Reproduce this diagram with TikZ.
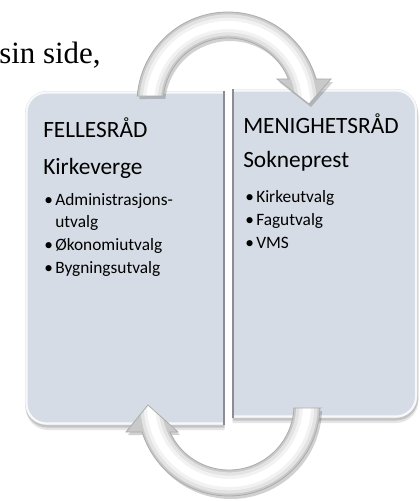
\documentclass[tikz,border=0pt]{standalone}
\usepackage{fontspec}
\setmainfont{Carlito}
\newfontfamily\serifx{Liberation Serif}
\definecolor{boxfill}{HTML}{D6DCE5}
\definecolor{boxedge}{HTML}{8A8E94}
\definecolor{arrowbase}{HTML}{C9C9C9}
\begin{document}
\begin{tikzpicture}[x=0.75pt,y=-0.75pt,
  titletext/.style={anchor=base west, inner sep=0pt, font=\fontsize{17.5}{21}\selectfont, text=black},
  itemtext/.style={anchor=base west, inner sep=0pt, font=\fontsize{13}{16}\selectfont, text=black},
  arrowedge/.style={draw=gray!65, line width=0.6pt},
]
\useasboundingbox (0,0) rectangle (420,501);

% intro text
\node[anchor=base west, inner sep=0pt, font=\serifx\fontsize{23.2}{28}\selectfont] (intro) at (-1,63) {sin side,};

% left box
\begin{scope}
  \clip (0,0) rectangle (224.5,501);
  \fill[black, opacity=.10, rounded corners=17pt] (25.5,95) rectangle (262,430);
  \fill[black, opacity=.15, rounded corners=16.5pt] (25.5,93) rectangle (262,427.5);
  \fill[boxfill, rounded corners=16.5pt] (25,91) rectangle (262,425);
  \draw[white, opacity=.8, line width=1.6pt, rounded corners=15pt] (26.5,92.5) rectangle (262,423.5);
\end{scope}
\draw[boxedge, line width=1pt] (224,91) -- (224,425);

% right box
\begin{scope}
  \clip (232.5,0) rectangle (420,501);
  \fill[black, opacity=.10, rounded corners=17pt] (190,93) rectangle (418.5,423);
  \fill[black, opacity=.15, rounded corners=16.5pt] (190,91) rectangle (418,420.5);
  \fill[boxfill, rounded corners=16.5pt] (190,89) rectangle (417.5,418);
  \draw[white, opacity=.8, line width=1.6pt, rounded corners=15pt] (190,90.5) rectangle (416,416.5);
\end{scope}
\draw[boxedge, line width=1pt] (233,89) -- (233,418);

% arrow paths
\def\TopArrow{(137.3,96) -- plot[domain=175.6:15.3,samples=60] ({228+91*cos(\x)},{103-91*sin(\x)}) -- (331,79) -- (309,104) -- (277,79) -- plot[domain=21.7:173.8,samples=60] ({228+65*cos(\x)},{103-65*sin(\x)}) -- cycle}
\def\BotArrow{(320,408) -- plot[domain=-1.9:-162.7,samples=60] ({229+91*cos(\x)},{405-91*sin(\x)}) -- (126,432) -- (148,405) -- (178,432) -- plot[domain=-155.5:-2.6,samples=60] ({229+65*cos(\x)},{405-65*sin(\x)}) -- cycle}

% top arrow
\begin{scope}[shift={(2,3)}]
  \fill[black, opacity=.18] \TopArrow;
\end{scope}
\fill[arrowbase] \TopArrow;
\begin{scope}
  \clip \TopArrow;
  \draw[gray!22, line width=16pt] plot[domain=182:-4,samples=60] ({228+78*cos(\x)},{103-78*sin(\x)});
  \draw[gray!10, line width=11pt] plot[domain=182:-4,samples=60] ({228+78*cos(\x)},{103-78*sin(\x)});
  \draw[white, line width=6pt] plot[domain=182:-4,samples=60] ({228+78*cos(\x)},{103-78*sin(\x)});
\end{scope}
\draw[arrowedge] \TopArrow;

% bottom arrow
\begin{scope}[shift={(2,3)}]
  \fill[black, opacity=.18] \BotArrow;
\end{scope}
\fill[arrowbase] \BotArrow;
\begin{scope}
  \clip \BotArrow;
  \draw[gray!22, line width=16pt] plot[domain=2:-186,samples=60] ({229+78*cos(\x)},{405-78*sin(\x)});
  \draw[gray!10, line width=11pt] plot[domain=2:-186,samples=60] ({229+78*cos(\x)},{405-78*sin(\x)});
  \draw[white, line width=6pt] plot[domain=2:-186,samples=60] ({229+78*cos(\x)},{405-78*sin(\x)});
\end{scope}
\draw[arrowedge] \BotArrow;

% left box text
\node[titletext] (fr) at (43,137) {FELLESRÅD};
\node[titletext] (kv) at (43,174) {Kirkeverge};
\node[itemtext] (b1) at (44,205) {•};
\node[itemtext] (l1) at (55,205) {Administrasjons-};
\node[itemtext] (l1b) at (55,227) {utvalg};
\node[itemtext] (b2) at (44,250) {•};
\node[itemtext] (l2) at (55,250) {Økonomiutvalg};
\node[itemtext] (b3) at (44,273) {•};
\node[itemtext] (l3) at (55,273) {Bygningsutvalg};

% right box text
\node[titletext] (mr) at (243,133) {MENIGHETSRÅD};
\node[titletext] (sp) at (243,167) {Sokneprest};
\node[itemtext] (c1) at (245,202) {•};
\node[itemtext] (r1) at (256,202) {Kirkeutvalg};
\node[itemtext] (c2) at (245,225) {•};
\node[itemtext] (r2) at (256,225) {Fagutvalg};
\node[itemtext] (c3) at (245,248) {•};
\node[itemtext] (r3) at (256,248) {VMS};
\end{tikzpicture}
\end{document}
